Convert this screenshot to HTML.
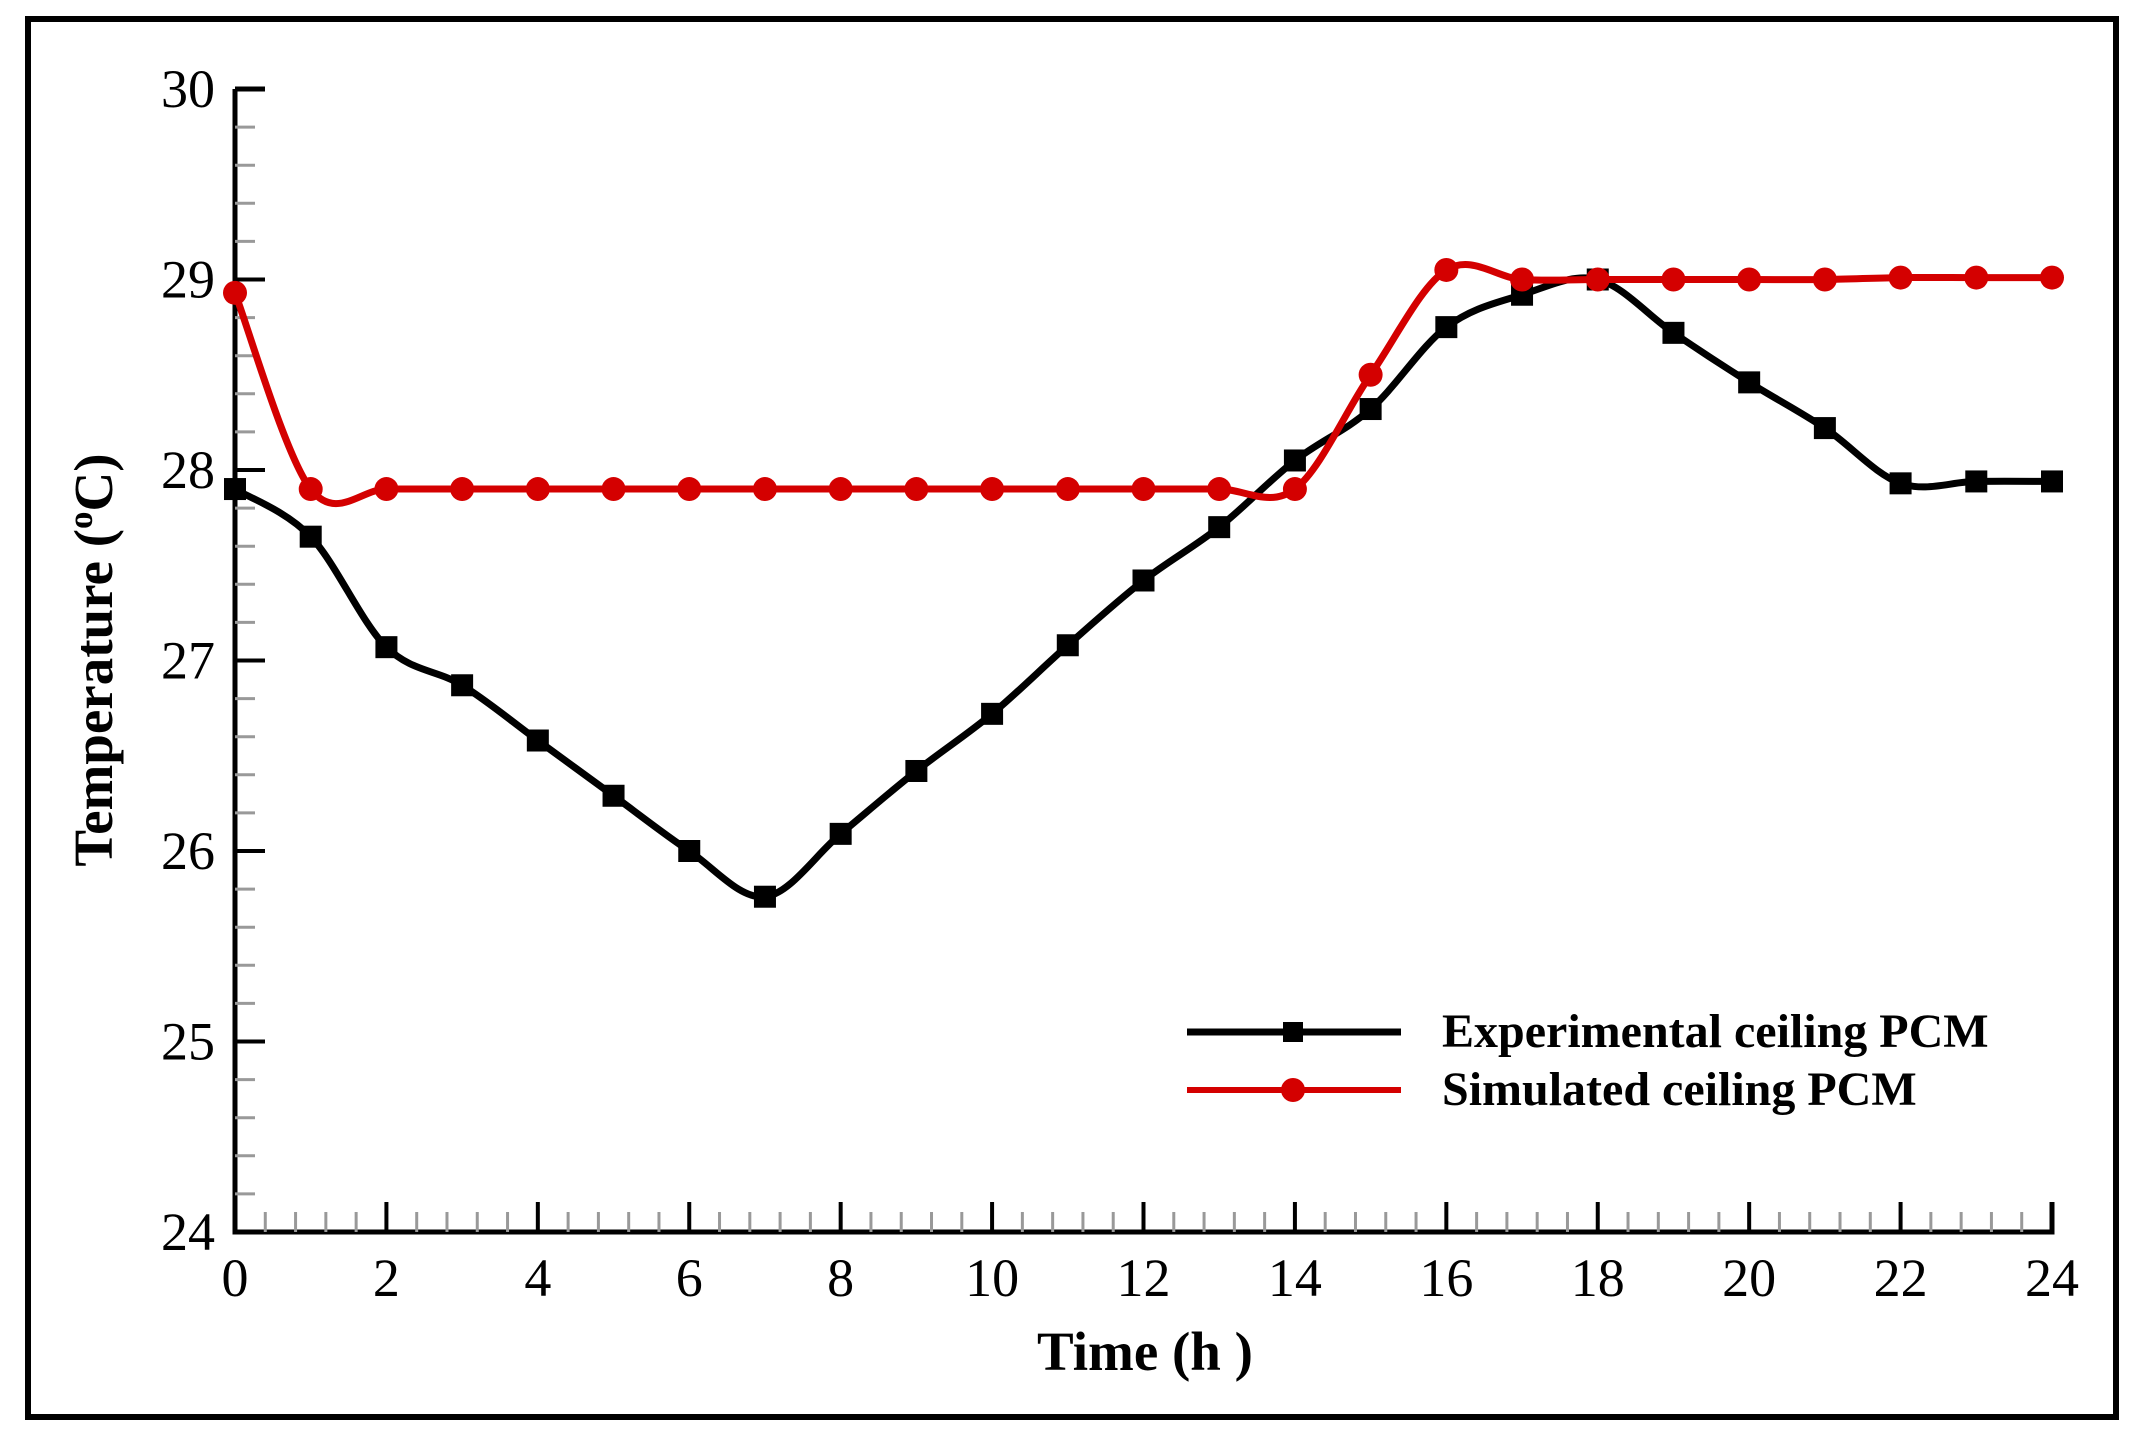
<!DOCTYPE html>
<html><head><meta charset="utf-8"><style>
html,body{margin:0;padding:0;background:#fff;width:2144px;height:1446px;overflow:hidden}
svg text{font-family:"Liberation Serif",serif}
</style></head><body>
<svg id="chart" width="2144" height="1446" viewBox="0 0 2144 1446" xmlns="http://www.w3.org/2000/svg">
<rect x="28" y="19" width="2088" height="1398" fill="none" stroke="#000" stroke-width="6"/>
<g id="ticks"></g>
<g id="series"></g>
<text x="1145" y="1370" font-size="55" font-weight="bold" text-anchor="middle">Time (h  )</text>
<text transform="translate(112,660) rotate(-90)" font-size="55" font-weight="bold" text-anchor="middle">Temperature (<tspan font-size="35" dy="-20">o</tspan><tspan dy="20">C)</tspan></text>
<g>
<line x1="1187" y1="1032" x2="1401" y2="1032" stroke="#000" stroke-width="7"/>
<rect x="1283" y="1022" width="20" height="20" fill="#000"/>
<text x="1442" y="1047" font-size="48" font-weight="bold">Experimental ceiling PCM</text>
<line x1="1187" y1="1090" x2="1401" y2="1090" stroke="#d40000" stroke-width="6"/>
<circle cx="1293" cy="1090" r="12" fill="#d40000"/>
<text x="1442" y="1105" font-size="48" font-weight="bold">Simulated ceiling PCM</text>
</g>
</svg>
<script>
const hours=[0,1,2,3,4,5,6,7,8,9,10,11,12,13,14,15,16,17,18,19,20,21,22,23,24];
const experimental=[27.9,27.65,27.07,26.87,26.58,26.29,26.0,25.76,26.09,26.42,26.72,27.08,27.42,27.7,28.05,28.32,28.75,28.92,29.0,28.72,28.46,28.22,27.93,27.94,27.94];
const simulated=[28.93,27.9,27.9,27.9,27.9,27.9,27.9,27.9,27.9,27.9,27.9,27.9,27.9,27.9,27.9,28.5,29.05,29.0,29.0,29.0,29.0,29.0,29.01,29.01,29.01];
const xTicks=[0,2,4,6,8,10,12,14,16,18,20,22,24];
const yTicks=[24,25,26,27,28,29,30];
const X0=235,X1=2052,Y0=1232,Y1=89;
const sx=v=>X0+(v-0)/24*(X1-X0);
const sy=v=>Y0-(v-24)/6*(Y0-Y1);
const NS="http://www.w3.org/2000/svg";
const tg=document.getElementById('ticks'),sg=document.getElementById('series');
function mk(tag,attrs,parent){const e=document.createElementNS(NS,tag);for(const k in attrs)e.setAttribute(k,attrs[k]);parent.appendChild(e);return e;}
const ax=mk('path',{d:`M${X0} ${Y1} L${X0} ${Y0} L${X1} ${Y0} L${X1} ${Y0-30}`,fill:'none',stroke:'#000','stroke-width':5},tg);


for(let v=24;v<=30.001;v+=0.2){const major=Math.abs(v-Math.round(v))<1e-6;
 mk('line',{x1:X0,x2:X0+(major?30:20),y1:sy(v),y2:sy(v),stroke:major?'#000':'#999','stroke-width':major?4:3},tg);}
mk('line',{x1:X0,x2:X0+30,y1:Y1,y2:Y1,stroke:'#000','stroke-width':5},tg);
for(let v=0;v<=24.001;v+=0.4){const major=Math.abs(v/2-Math.round(v/2))<1e-6;
 mk('line',{x1:sx(v),x2:sx(v),y1:Y0,y2:Y0-(major?30:20),stroke:major?'#000':'#999','stroke-width':major?4:3},tg);}
yTicks.forEach(t=>{const e=mk('text',{x:X0-20,y:sy(t)+18,'font-size':54,'text-anchor':'end'},tg);e.textContent=t;
 
 });
xTicks.forEach(t=>{const e=mk('text',{x:sx(t),y:Y0+64,'font-size':54,'text-anchor':'middle'},tg);e.textContent=t;
 
 });
function smooth(pts){let d=`M${pts[0][0]} ${pts[0][1]}`;
 for(let i=0;i<pts.length-1;i++){const p0=pts[i-1]||pts[i],p1=pts[i],p2=pts[i+1],p3=pts[i+2]||p2;
  const c1=[p1[0]+(p2[0]-p0[0])/6,p1[1]+(p2[1]-p0[1])/6],c2=[p2[0]-(p3[0]-p1[0])/6,p2[1]-(p3[1]-p1[1])/6];
  d+=` C${c1[0]} ${c1[1]} ${c2[0]} ${c2[1]} ${p2[0]} ${p2[1]}`;}return d;}
const ep=hours.map((h,i)=>[sx(h),sy(experimental[i])]);
const spp=hours.map((h,i)=>[sx(h),sy(simulated[i])]);
const el=mk('path',{d:smooth(ep),fill:'none',stroke:'#000','stroke-width':7},sg);


ep.forEach(p=>{const r=mk('rect',{x:p[0]-11,y:p[1]-11,width:22,height:22,fill:'#000'},sg);
 
 });
const rl=mk('path',{d:smooth(spp),fill:'none',stroke:'#d40000','stroke-width':7},sg);


spp.forEach(p=>{const c=mk('circle',{cx:p[0],cy:p[1],r:12,fill:'#d40000'},sg);
 
 });
</script>
</body></html>
